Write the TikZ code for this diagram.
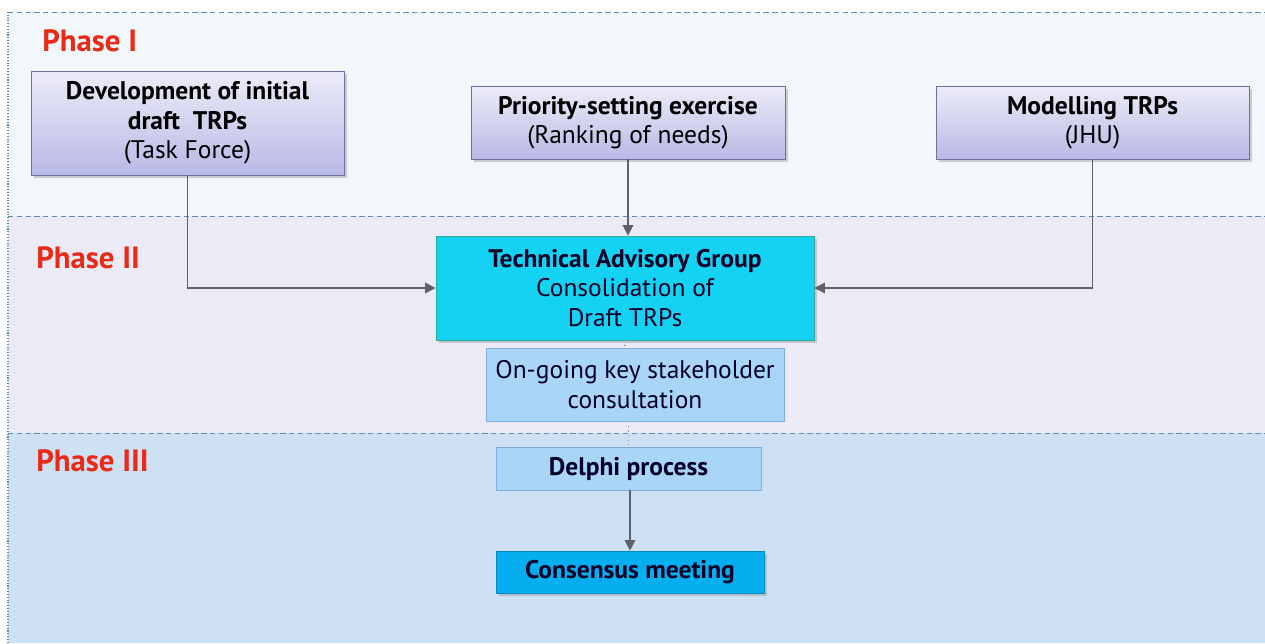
\documentclass[tikz,border=0pt]{standalone}
\usepackage{fontspec}
\setmainfont{PT Sans}
\usetikzlibrary{positioning, arrows.meta, shadows}

\definecolor{bandI}{HTML}{F1F7FA}
\definecolor{bandII}{HTML}{ECEAF6}
\definecolor{bandIII}{HTML}{CEE0F4}
\definecolor{bandline}{HTML}{5E8DB3}
\definecolor{phasered}{HTML}{EA2A17}
\definecolor{lavtop}{HTML}{ECECF8}
\definecolor{lavbot}{HTML}{B9B9E6}
\definecolor{lavdraw}{HTML}{6E6EA0}
\definecolor{tagfill}{HTML}{14D2F2}
\definecolor{tagdraw}{HTML}{2FA89C}
\definecolor{palefill}{HTML}{A9D6F8}
\definecolor{paledraw}{HTML}{7DAEE0}
\definecolor{meetfill}{HTML}{04AEEF}
\definecolor{arrowgray}{HTML}{5F6166}

\begin{document}
\begin{tikzpicture}[
    x=0.02cm, y=-0.02cm,
    >={Triangle[length=6pt, width=6pt]},
    phase/.style={font=\fontsize{17.5}{20}\selectfont\bfseries, text=phasered, anchor=west, inner sep=0pt},
    inputbox/.style={draw=lavdraw, top color=lavtop, bottom color=lavbot, align=center,
        font=\fontsize{14.5}{16.8}\selectfont, inner sep=0pt,
        drop shadow={shadow xshift=1.5pt, shadow yshift=-1.5pt, opacity=0.35}},
    tagbox/.style={draw=tagdraw, fill=tagfill, align=center, inner sep=0pt,
        font=\fontsize{14.5}{16.8}\selectfont, text=black!85!blue,
        drop shadow={shadow xshift=1.5pt, shadow yshift=-1.5pt, opacity=0.35}},
    palebox/.style={draw=paledraw, fill=palefill, align=center, inner sep=0pt,
        font=\fontsize{14.5}{16.8}\selectfont, text=black!85!blue},
    link/.style={draw=arrowgray, line width=0.8pt},
    dots/.style={draw=arrowgray!70, dotted, line width=0.6pt}
]
    \useasboundingbox (0,0) rectangle (1265,643);

    % background bands for the three phases
    \fill[bandI] (8,12) rectangle (1265,216);
    \fill[bandII] (8,216) rectangle (1265,433);
    \fill[bandIII] (8,433) rectangle (1265,643);
    \draw[bandline, densely dashed, line width=0.4pt] (8,12) -- (1265,12);
    \draw[bandline, densely dashed, line width=0.4pt] (8,216) -- (1265,216);
    \draw[bandline, densely dashed, line width=0.4pt] (8,433) -- (1265,433);
    \draw[bandline, densely dotted, line width=0.6pt] (8,12) -- (8,643);

    \node[phase] (p1) at (42,41) {Phase I};
    \node[phase] (p2) at (36,258) {Phase II};
    \node[phase] (p3) at (36,461) {Phase III};

    % phase I inputs
    \node[inputbox, minimum width=6.26cm, minimum height=2.08cm] (dev) at (187.5,123)
        {\textbf{Development of initial}\\\textbf{draft\ \ TRPs}\\(Task Force)};
    \node[inputbox, minimum width=6.28cm, minimum height=1.46cm] (prio) at (628,122.5)
        {\textbf{Priority-setting exercise}\\(Ranking of needs)};
    \node[inputbox, minimum width=6.26cm, minimum height=1.46cm] (model) at (1092.5,122.5)
        {\textbf{Modelling TRPs}\\(JHU)};

    % phase II
    \node[tagbox, minimum width=7.56cm, minimum height=2.08cm] (tag) at (625,288)
        {\textbf{Technical Advisory Group}\\Consolidation of\\Draft TRPs};
    \node[palebox, minimum width=5.96cm, minimum height=1.46cm] (ongoing) at (635,384.5)
        {On-going key stakeholder\\consultation};

    % phase III
    \node[palebox, minimum width=5.3cm, minimum height=0.86cm] (delphi) at (628.5,468.5)
        {\textbf{Delphi process}};
    \node[tagbox, fill=meetfill, draw=meetfill!80!black, minimum width=5.36cm, minimum height=0.84cm] (meeting) at (630,572)
        {\textbf{Consensus meeting}};

    % connectors
    \draw[link, ->] (dev.south) |- (tag.west);
    \draw[link, ->] (prio.south) -- (prio.south |- tag.north);
    \draw[link, ->] (model.south) |- (tag.east);
    \draw[dots] (tag.south) -- (tag.south |- ongoing.north);
    \draw[dots] (ongoing.south -| delphi.north) -- (delphi.north);
    \draw[link, ->] (delphi.south) -- (delphi.south -| meeting.north) -- (meeting.north);
\end{tikzpicture}
\end{document}
